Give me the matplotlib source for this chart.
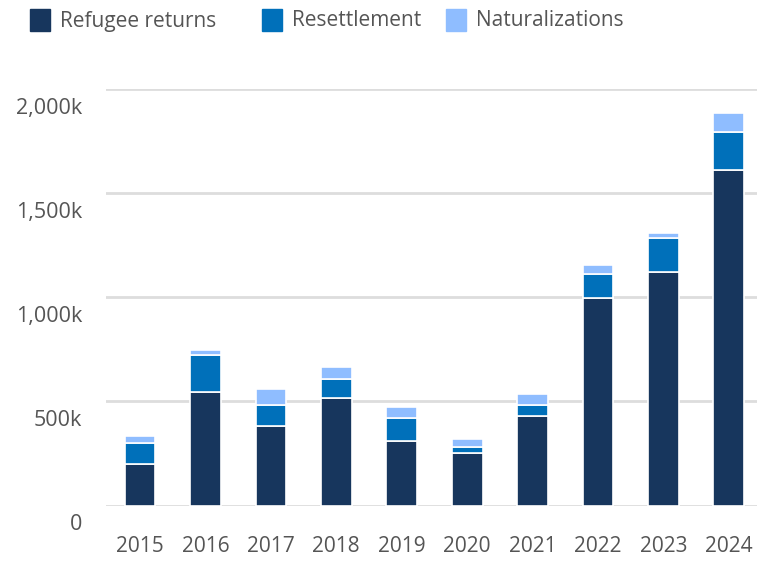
import numpy as np
import matplotlib
matplotlib.use("Agg")
import matplotlib.pyplot as plt
from matplotlib.patches import Rectangle

plt.rcParams["font.family"] = ["Open Sans", "DejaVu Sans"]

years = ["2015", "2016", "2017", "2018", "2019", "2020", "2021", "2022", "2023", "2024"]
# values in thousands
refugee_returns = [197, 546, 382, 516, 310, 250, 428, 994, 1119, 1610]
resettlement = [105, 177, 100, 93, 110, 30, 53, 117, 166, 183]
naturalizations = [31, 24, 77, 58, 53, 38, 56, 46, 25, 93]

series_names = ["Refugee returns", "Resettlement", "Naturalizations"]
colors = ["#17365d", "#0070ba", "#8fbdff"]
y_ticks = [0, 500, 1000, 1500, 2000]
y_labels = ["0", "500k", "1,000k", "1,500k", "2,000k"]

W, H = 757, 561
fig = plt.figure(figsize=(W / 100, H / 100), dpi=100)
ax = fig.add_axes([106 / W, (H - 505.5) / H, 1 - 106 / W, (505.5 - 89) / H])

x = np.arange(len(years))
bottom = np.zeros(len(years))
for vals, col in zip([refugee_returns, resettlement, naturalizations], colors):
    ax.bar(x, vals, width=0.47, bottom=bottom, color=col,
           edgecolor="white", linewidth=1.2, zorder=3)
    bottom += np.array(vals)

ax.set_xlim(-0.52, 9.43)
ax.set_ylim(0, 2000)
ax.set_yticks(y_ticks)
ax.yaxis.grid(True, color="#dddddd", linewidth=2)
ax.set_axisbelow(True)
for s in ax.spines.values():
    s.set_visible(False)
ax.tick_params(axis="both", length=0)
ax.set_yticklabels([])
ax.set_xticks(x)
ax.set_xticklabels(years, fontsize=15, color="#555555")
ax.tick_params(axis="x", pad=22)

# y labels sit just below their gridlines
for v, lab in zip(y_ticks, y_labels):
    ax.annotate(lab, xy=(0, v), xycoords=("axes fraction", "data"),
                xytext=(-24, -9), textcoords="offset pixels",
                ha="right", va="top", fontsize=15.5, color="#555555")

# legend along the top
legend_x = [30, 262, 446]
for lx, name, col in zip(legend_x, series_names, colors):
    fig.patches.append(Rectangle((lx / W, (H - 31) / H), 20 / W, 22 / H,
                                 transform=fig.transFigure, color=col))
    fig.text((lx + 30) / W, (H - 21) / H, name, fontsize=15,
             color="#555555", va="center", ha="left")

fig.savefig("out.png", dpi=100)
